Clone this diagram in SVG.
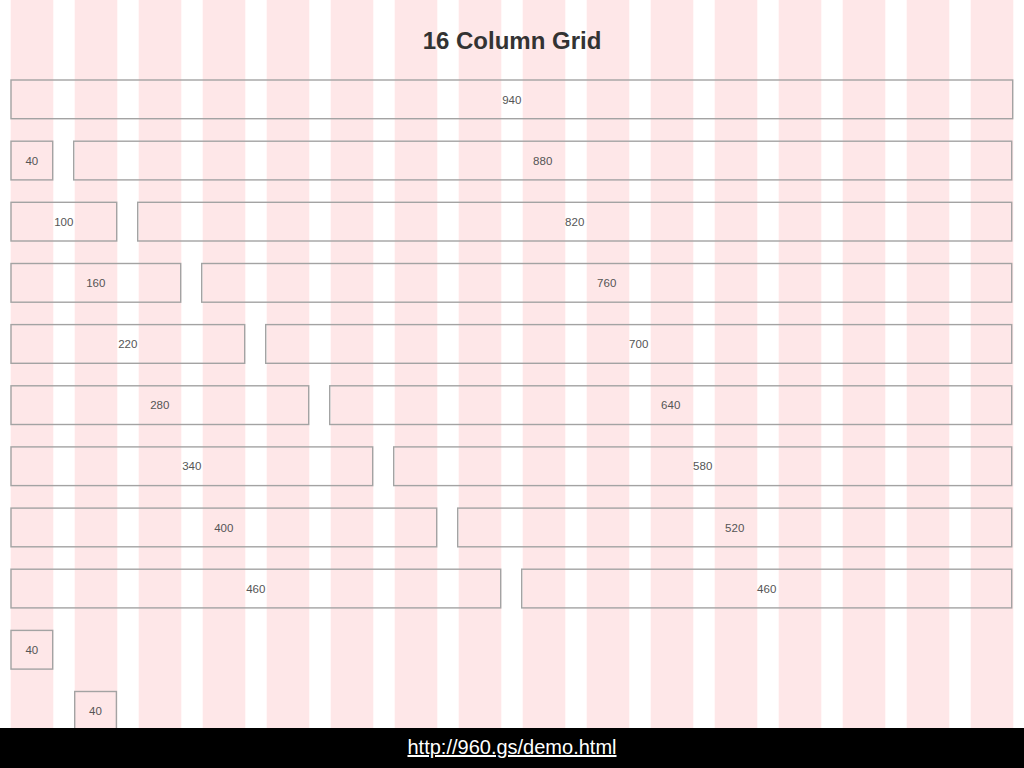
<svg xmlns="http://www.w3.org/2000/svg" width="1024" height="768" viewBox="0 0 1024 768">
<style>
.col{fill:#fee7e8}
.box{fill:none;stroke:#a3a3a3;stroke-width:1.4}
.lbl{font-family:"Liberation Sans",Arial,sans-serif;font-size:11.5px;fill:#555;text-anchor:middle}
.title{font-family:"Liberation Sans",Arial,sans-serif;font-size:24px;font-weight:bold;fill:#333;text-anchor:middle}
.url{font-family:"Liberation Sans",Arial,sans-serif;font-size:20px;fill:#fff;text-anchor:middle;text-decoration:underline}
</style>
<rect width="1024" height="768" fill="#fff"/>
<g id="columns">
<rect class="col" x="10.7" y="0" width="42.6" height="728"/>
<rect class="col" x="74.7" y="0" width="42.6" height="728"/>
<rect class="col" x="138.7" y="0" width="42.6" height="728"/>
<rect class="col" x="202.7" y="0" width="42.6" height="728"/>
<rect class="col" x="266.7" y="0" width="42.6" height="728"/>
<rect class="col" x="330.7" y="0" width="42.6" height="728"/>
<rect class="col" x="394.7" y="0" width="42.6" height="728"/>
<rect class="col" x="458.7" y="0" width="42.6" height="728"/>
<rect class="col" x="522.7" y="0" width="42.6" height="728"/>
<rect class="col" x="586.7" y="0" width="42.6" height="728"/>
<rect class="col" x="650.7" y="0" width="42.6" height="728"/>
<rect class="col" x="714.7" y="0" width="42.6" height="728"/>
<rect class="col" x="778.7" y="0" width="42.6" height="728"/>
<rect class="col" x="842.7" y="0" width="42.6" height="728"/>
<rect class="col" x="906.7" y="0" width="42.6" height="728"/>
<rect class="col" x="970.7" y="0" width="42.6" height="728"/>
</g>
<text class="title" x="512" y="48.5">16 Column Grid</text>
<g id="r0"><rect class="box" x="11" y="80" width="1001.7" height="38.7"/><text class="lbl" x="511.8" y="103.5">940</text></g>
<g id="r1a"><rect class="box" x="11" y="141.2" width="41.7" height="38.7"/><text class="lbl" x="31.8" y="164.7">40</text></g>
<g id="r1b"><rect class="box" x="73.7" y="141.2" width="938" height="38.7"/><text class="lbl" x="542.7" y="164.7">880</text></g>
<g id="r2a"><rect class="box" x="11" y="202.3" width="105.7" height="38.7"/><text class="lbl" x="63.8" y="225.8">100</text></g>
<g id="r2b"><rect class="box" x="137.7" y="202.3" width="874" height="38.7"/><text class="lbl" x="574.7" y="225.8">820</text></g>
<g id="r3a"><rect class="box" x="11" y="263.5" width="169.7" height="38.7"/><text class="lbl" x="95.8" y="287">160</text></g>
<g id="r3b"><rect class="box" x="201.7" y="263.5" width="810" height="38.7"/><text class="lbl" x="606.7" y="287">760</text></g>
<g id="r4a"><rect class="box" x="11" y="324.6" width="233.7" height="38.7"/><text class="lbl" x="127.8" y="348.1">220</text></g>
<g id="r4b"><rect class="box" x="265.7" y="324.6" width="746" height="38.7"/><text class="lbl" x="638.7" y="348.1">700</text></g>
<g id="r5a"><rect class="box" x="11" y="385.8" width="297.7" height="38.7"/><text class="lbl" x="159.8" y="409.3">280</text></g>
<g id="r5b"><rect class="box" x="329.7" y="385.8" width="682" height="38.7"/><text class="lbl" x="670.7" y="409.3">640</text></g>
<g id="r6a"><rect class="box" x="11" y="446.9" width="361.7" height="38.7"/><text class="lbl" x="191.8" y="470.4">340</text></g>
<g id="r6b"><rect class="box" x="393.7" y="446.9" width="618" height="38.7"/><text class="lbl" x="702.7" y="470.4">580</text></g>
<g id="r7a"><rect class="box" x="11" y="508.1" width="425.7" height="38.7"/><text class="lbl" x="223.8" y="531.6">400</text></g>
<g id="r7b"><rect class="box" x="457.7" y="508.1" width="554" height="38.7"/><text class="lbl" x="734.7" y="531.6">520</text></g>
<g id="r8a"><rect class="box" x="11" y="569.2" width="489.7" height="38.7"/><text class="lbl" x="255.8" y="592.7">460</text></g>
<g id="r8b"><rect class="box" x="521.7" y="569.2" width="490" height="38.7"/><text class="lbl" x="766.7" y="592.7">460</text></g>
<g id="r9"><rect class="box" x="11" y="630.4" width="41.7" height="38.7"/><text class="lbl" x="31.8" y="653.9">40</text></g>
<g id="r10"><rect class="box" x="74.7" y="691.5" width="41.7" height="38.7"/><text class="lbl" x="95.5" y="715">40</text></g>
<g id="connectors"/>
<rect x="0" y="728" width="1024" height="40" fill="#000"/>
<text class="url" x="512" y="754">http://960.gs/demo.html</text>
</svg>
